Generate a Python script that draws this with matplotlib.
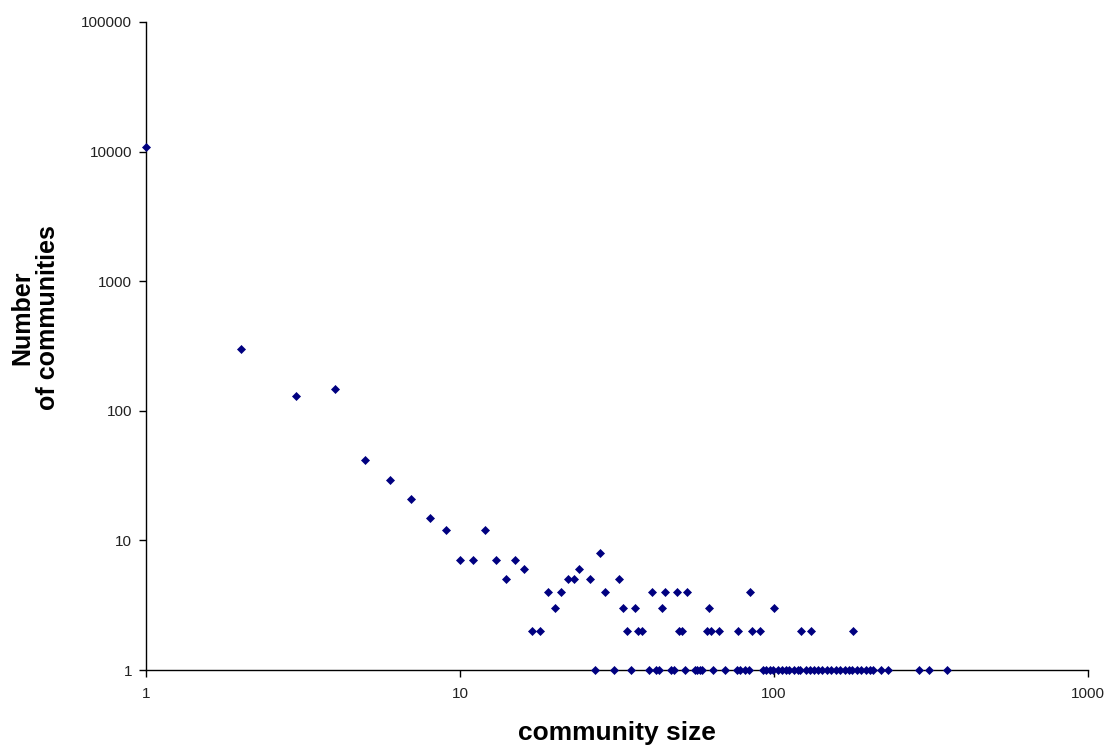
import matplotlib
matplotlib.use("Agg")
import matplotlib.pyplot as plt

plt.rcParams['font.family'] = ['Liberation Sans', 'DejaVu Sans']

# community sizes with more than one community
sizes_multi = [1, 2, 3, 4, 5, 6, 7, 8, 9, 10, 11, 12, 13, 14, 15, 16, 17, 18,
               19, 20, 21, 22, 23, 24, 26, 28, 29, 32, 33, 34, 36, 37, 38, 41,
               44, 45, 49, 50, 51, 53, 61, 62, 63, 67, 77, 84, 85, 90, 100,
               122, 131, 178]
counts_multi = [10900, 300, 131, 147, 42, 29, 21, 15, 12, 7, 7, 12, 7, 5, 7,
                6, 2, 2, 4, 3, 4, 5, 5, 6, 5, 8, 4, 5, 3, 2, 3, 2, 2, 4, 3, 4,
                4, 2, 2, 4, 2, 3, 2, 2, 2, 4, 2, 2, 3, 2, 2, 2]

# community sizes that occur only once
sizes_single = [27, 31, 35, 40, 42, 43, 47, 48, 52, 56, 57, 58, 59, 64, 70,
                76, 78, 81, 83, 92, 94, 97, 99, 103, 106, 109, 112, 116, 119,
                121, 126, 130, 134, 138, 142, 148, 152, 158, 162, 168, 173,
                177, 184, 189, 196, 202, 207, 219, 231, 290, 311, 356]
counts_single = [1] * len(sizes_single)

x_ticks = [1, 10, 100, 1000]
x_tick_labels = ['1', '10', '100', '1000']
y_ticks = [1, 10, 100, 1000, 10000, 100000]
y_tick_labels = ['1', '10', '100', '1000', '10000', '100000']

fig = plt.figure(figsize=(11.07, 7.49), dpi=100)
ax = fig.add_axes([146 / 1107, 79 / 749, 942 / 1107, 648 / 749])

navy = '#000080'
ax.plot(sizes_multi + sizes_single, counts_multi + counts_single,
        linestyle='none', marker='D', markersize=4.5, color=navy,
        markeredgewidth=0.5, clip_on=False, zorder=3)

ax.set_xscale('log')
ax.set_yscale('log')
ax.set_xlim(1, 1000)
ax.set_ylim(1, 100000)
ax.minorticks_off()
ax.set_xticks(x_ticks)
ax.set_xticklabels(x_tick_labels)
ax.set_yticks(y_ticks)
ax.set_yticklabels(y_tick_labels)

ax.tick_params(axis='both', direction='out', length=5, width=1,
               labelsize=11, colors='black', labelcolor='#222222')
ax.tick_params(axis='x', pad=7)
ax.tick_params(axis='y', pad=5)

for s in ['top', 'right']:
    ax.spines[s].set_visible(False)
for s in ['left', 'bottom']:
    ax.spines[s].set_linewidth(1)
    ax.spines[s].set_color('black')

fig.text(617 / 1107, 1 - 733 / 749, 'community size', ha='center',
         va='center', fontsize=19, fontweight='bold')
fig.text(35 / 1107, 1 - 318 / 749, 'Number\nof communities', ha='center',
         va='center', rotation=90, fontsize=18, fontweight='bold',
         multialignment='center', linespacing=1.1)

fig.savefig('out.png', dpi=100)
